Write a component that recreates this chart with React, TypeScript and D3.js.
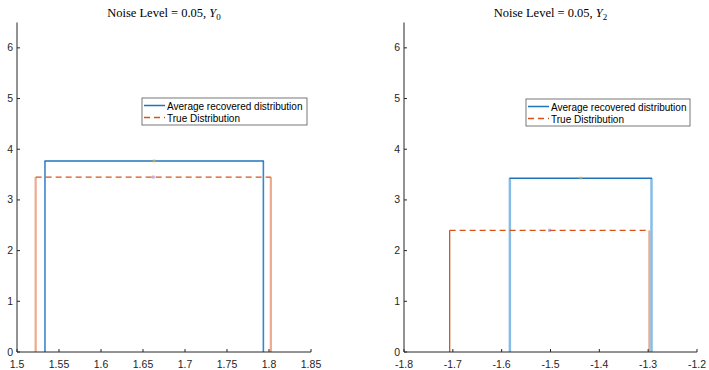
import React from "react";
import * as d3 from "d3";

// Panel definitions
const titles = ["0", "2"];
const xDomains: [number, number][] = [[1.5, 1.85], [-1.8, -1.2]];
const xTicks: number[][] = [
  [1.5, 1.55, 1.6, 1.65, 1.7, 1.75, 1.8, 1.85],
  [-1.8, -1.7, -1.6, -1.5, -1.4, -1.3, -1.2],
];
const yTicks = [0, 1, 2, 3, 4, 5, 6];
const yDomain: [number, number] = [0, 6.5];

// Average recovered distribution: [left, right, height]
const recovered: [number, number, number][] = [
  [1.5333, 1.7933, 3.77],
  [-1.5832, -1.2932, 3.43],
];
// True distribution: [left, right, height]
const trueDist: [number, number, number][] = [
  [1.5222, 1.8022, 3.45],
  [-1.7065, -1.2975, 2.4],
];

const panelX: [number, number][] = [[17, 311], [404, 697]];
const legendX = [142, 526];
const legendW = [165, 164];

const BLUE = "#1f74bb";
const BLUE_L = "#86bce6";
const ORANGE = "#d95319";
const SALMON = "#eeaa8e";

export default function App() {
  const y = d3.scaleLinear().domain(yDomain).range([352, 22.5]);
  const font = "'Liberation Sans', Arial, Helvetica, sans-serif";
  return (
    <svg width={709} height={370} style={{ position: "absolute", left: 0, top: 0, background: "#fff" }}>
      {panelX.map((px, i) => {
        const x = d3.scaleLinear().domain(xDomains[i]).range(px);
        const [bl, br, bh] = recovered[i];
        const [tl, tr, th] = trueDist[i];
        const bVertColor = i === 0 ? "#3a86c8" : BLUE_L;
        const bVertW = i === 0 ? 1.6 : 2.5;
        const cx = (px[0] + px[1]) / 2;
        const bMid = (bl + br) / 2;
        const tMid = (tl + tr) / 2;
        return (
          <g key={i}>
            {/* true distribution verticals */}
            <line x1={x(tl)} x2={x(tl)} y1={y(0)} y2={y(th)} stroke={i === 0 ? SALMON : ORANGE} strokeWidth={i === 0 ? 2.2 : 1.3} />
            <line x1={x(tr)} x2={x(tr)} y1={y(0)} y2={y(th)} stroke={SALMON} strokeWidth={2.2} />
            {/* recovered verticals */}
            <line x1={x(bl)} x2={x(bl)} y1={y(0)} y2={y(bh)} stroke={bVertColor} strokeWidth={bVertW} />
            <line x1={x(br)} x2={x(br)} y1={y(0)} y2={y(bh)} stroke={bVertColor} strokeWidth={bVertW} />
            {/* tops */}
            <line x1={x(bl) - 0.5} x2={x(br) + 0.5} y1={y(bh)} y2={y(bh)} stroke={BLUE} strokeWidth={1.5} />
            <line x1={x(tl)} x2={x(tr)} y1={y(th)} y2={y(th)} stroke={ORANGE} strokeWidth={1.4} strokeDasharray="6,4" />
            {/* midpoint markers */}
            <rect x={x(bMid) - 1.5} y={y(bh) - 1.5} width={3} height={3} fill="#EDB120" opacity={0.6} />
            <rect x={x(tMid) - 1.5} y={y(th) - 1.5} width={3} height={3} fill="#9b59b6" opacity={0.5} />
            {/* axes */}
            <line x1={px[0]} x2={px[1]} y1={y(0)} y2={y(0)} stroke="#262626" strokeWidth={1} />
            <line x1={px[0]} x2={px[0]} y1={y(0)} y2={y(6.5)} stroke="#262626" strokeWidth={1} />
            {xTicks[i].map((t) => (
              <g key={t}>
                <line x1={x(t)} x2={x(t)} y1={y(0)} y2={y(0) - 3} stroke="#262626" />
                <text x={x(t)} y={367.5} fontSize={10.5} fontFamily={font} textAnchor="middle" fill="#262626">
                  {String(t)}
                </text>
              </g>
            ))}
            {yTicks.map((t) => (
              <g key={t}>
                <line x1={px[0]} x2={px[0] + 3} y1={y(t)} y2={y(t)} stroke="#262626" />
                <text x={px[0] - 4} y={y(t) + 3.5} fontSize={10.5} fontFamily={font} textAnchor="end" fill="#262626">
                  {t}
                </text>
              </g>
            ))}
            {/* title */}
            <text x={cx} y={17} fontSize={12.5} fontFamily="'Liberation Serif', 'DejaVu Serif', serif" textAnchor="middle" fill="#000">
              Noise Level = 0.05,{" "}
              <tspan fontStyle="italic">Y</tspan>
              <tspan fontSize={9} dy={3}>{titles[i]}</tspan>
            </text>
            {/* legend */}
            <g transform={`translate(${legendX[i]},${i === 0 ? 98 : 99})`}>
              <rect x={0} y={0} width={legendW[i]} height={27} fill="#fff" stroke="#555" strokeWidth={0.8} />
              <line x1={2} x2={23} y1={7.5} y2={7.5} stroke={BLUE} strokeWidth={1.5} />
              <line x1={2} x2={23} y1={19.5} y2={19.5} stroke={ORANGE} strokeWidth={1.4} strokeDasharray="6,4" />
              <text x={25} y={11.5} fontSize={10} fontFamily={font} fill="#000">Average recovered distribution</text>
              <text x={25} y={23.5} fontSize={10} fontFamily={font} fill="#000">True Distribution</text>
            </g>
          </g>
        );
      })}
    </svg>
  );
}
